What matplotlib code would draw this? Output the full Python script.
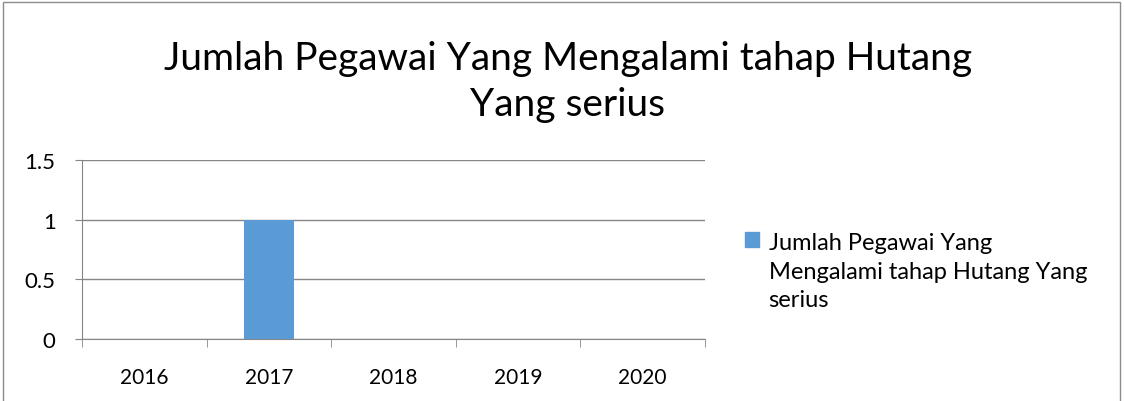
import matplotlib.pyplot as plt
from matplotlib.patches import Rectangle, Patch

years = ['2016', '2017', '2018', '2019', '2020']
jumlah = [0, 1, 0, 0, 0]
title = 'Jumlah Pegawai Yang Mengalami tahap Hutang\nYang serius'
series_label = 'Jumlah Pegawai Yang\nMengalami tahap Hutang Yang\nserius'

plt.rcParams['font.family'] = ['Lato', 'DejaVu Sans']

fig = plt.figure(figsize=(11.24, 4.02), dpi=100)
ax = fig.add_axes([0.073, 0.154, 0.554, 0.446])

bar_color = '#5B9BD5'
grid_color = '#868686'

x = range(len(years))
ax.bar(x, jumlah, width=0.4, color=bar_color, zorder=3)

ax.set_xlim(-0.5, len(years) - 0.5)
ax.set_ylim(0, 1.5)
ax.set_yticks([0, 0.5, 1, 1.5])
ax.set_yticklabels(['0', '0.5', '1', '1.5'])
ax.set_xticks(list(x))
ax.set_xticklabels(years)
ax.set_xticks([i - 0.5 for i in range(len(years) + 1)], minor=True)

ax.yaxis.grid(True, color=grid_color, linewidth=1.0, zorder=0)
for s in ['top', 'right']:
    ax.spines[s].set_visible(False)
ax.spines['left'].set_color(grid_color)
ax.spines['bottom'].set_color(grid_color)
ax.tick_params(axis='x', which='major', length=0, pad=20, labelsize=15)
ax.tick_params(axis='x', which='minor', length=6, color=grid_color)
ax.tick_params(axis='y', length=5, color=grid_color, labelsize=16, pad=14)

fig.text(0.505, 0.797, title, ha='center', va='center', fontsize=28, linespacing=1.35)

leg = fig.legend([Patch(color=bar_color)], [series_label], loc='upper left',
                 bbox_to_anchor=(745 / 1124, 1 - 233 / 402), frameon=False, fontsize=17,
                 handlelength=0.6, handleheight=0.6, handletextpad=0.4,
                 borderpad=0, borderaxespad=0)
for t in leg.get_texts():
    t.set_linespacing(1.45)
# put the square next to the first line, like Excel does
for col in leg._legend_handle_box.get_children():
    for item in col.get_children():
        item.align = 'top'

fig.patches.append(Rectangle((3 / 1124, -0.05), 1117 / 1124, 1.05 - 3 / 402,
                             transform=fig.transFigure, fill=False,
                             edgecolor='#8c8c8c', linewidth=1.0))

fig.savefig('out.png', dpi=100)
